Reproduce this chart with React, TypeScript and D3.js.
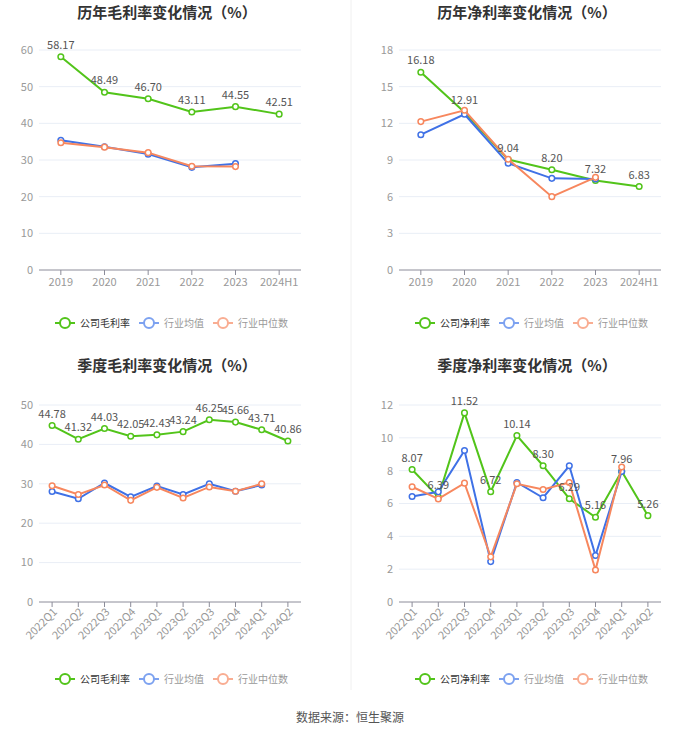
import * as d3 from "d3";
import { useEffect, useRef } from "react";

const years = ["2019", "2020", "2021", "2022", "2023", "2024H1"];
const quarters = ["2022Q1", "2022Q2", "2022Q3", "2022Q4", "2023Q1", "2023Q2", "2023Q3", "2023Q4", "2024Q1", "2024Q2"];

const yearGross = [58.17, 48.49, 46.7, 43.11, 44.55, 42.51];
const yearGrossMean = [35.4, 33.6, 31.6, 28.0, 29.0];
const yearGrossMedian = [34.7, 33.5, 32.0, 28.3, 28.2];

const yearNet = [16.18, 12.91, 9.04, 8.2, 7.32, 6.83];
const yearNetMean = [11.07, 12.74, 8.73, 7.5, 7.45];
const yearNetMedian = [12.14, 13.07, 9.06, 6.0, 7.58];

const qGross = [44.78, 41.32, 44.03, 42.05, 42.43, 43.24, 46.25, 45.66, 43.71, 40.86];
const qGrossMean = [28.05, 26.2, 30.2, 26.7, 29.4, 27.3, 30.0, 28.1, 29.7];
const qGrossMedian = [29.5, 27.3, 29.7, 25.8, 29.1, 26.4, 29.2, 28.1, 30.0];

const qNet = [8.07, 6.39, 11.52, 6.72, 10.14, 8.3, 6.29, 5.16, 7.96, 5.26];
const qNetMean = [6.43, 6.71, 9.23, 2.46, 7.28, 6.35, 8.3, 2.83, 7.95];
const qNetMedian = [7.02, 6.28, 7.24, 2.75, 7.2, 6.85, 7.28, 1.95, 8.22];

const GREEN = "#52c41a";
const BLUE = "#3f71e6";
const ORANGE = "#f7875e";
const FONT = "'Noto Sans CJK SC', 'Noto Sans', sans-serif";

type Panel = {
  title: string;
  companyName: string;
  cats: string[];
  company: number[];
  mean: number[];
  median: number[];
  yMax: number;
  yStep: number;
  left: number;
  top: number;
  bottom: number;
  titleY: number;
  legendY: number;
  rotate: boolean;
};

const panels: Panel[] = [
  { title: "历年毛利率变化情况（%）", companyName: "公司毛利率", cats: years, company: yearGross, mean: yearGrossMean, median: yearGrossMedian, yMax: 60, yStep: 10, left: 39, top: 50, bottom: 270, titleY: 13, legendY: 323, rotate: false },
  { title: "历年净利率变化情况（%）", companyName: "公司净利率", cats: years, company: yearNet, mean: yearNetMean, median: yearNetMedian, yMax: 18, yStep: 3, left: 399, top: 50, bottom: 270, titleY: 13, legendY: 323, rotate: false },
  { title: "季度毛利率变化情况（%）", companyName: "公司毛利率", cats: quarters, company: qGross, mean: qGrossMean, median: qGrossMedian, yMax: 50, yStep: 10, left: 39, top: 405, bottom: 602, titleY: 366, legendY: 679, rotate: true },
  { title: "季度净利率变化情况（%）", companyName: "公司净利率", cats: quarters, company: qNet, mean: qNetMean, median: qNetMedian, yMax: 12, yStep: 2, left: 399, top: 405, bottom: 602, titleY: 366, legendY: 679, rotate: true },
];

export default function App() {
  const ref = useRef<SVGSVGElement>(null);

  useEffect(() => {
    if (!ref.current) return;
    const svg = d3.select(ref.current);
    svg.selectAll("*").remove();
    svg.append("rect").attr("width", 700).attr("height", 734).attr("fill", "#fff");

    svg.append("line").attr("x1", 351).attr("x2", 351).attr("y1", 0).attr("y2", 690).attr("stroke", "#f0f0f0");

    panels.forEach(p => {
      const W = 262;
      const g = svg.append("g").attr("font-family", FONT);
      const x = d3.scaleBand().domain(p.cats).range([p.left, p.left + W]);
      const y = d3.scaleLinear().domain([0, p.yMax]).range([p.bottom, p.top]);
      const cx = (c: string) => (x(c) ?? 0) + x.bandwidth() / 2;
      const mid = p.left + W / 2;

      g.append("text")
        .attr("x", mid - 3)
        .attr("y", p.titleY)
        .attr("dy", "0.35em")
        .attr("text-anchor", "middle")
        .attr("font-size", 15)
        .attr("font-weight", 700)
        .attr("fill", "#333")
        .text(p.title);

      // grid + y labels
      d3.range(0, p.yMax + 0.001, p.yStep).forEach(v => {
        if (v > 0)
          g.append("line")
            .attr("x1", p.left).attr("x2", p.left + W)
            .attr("y1", y(v)).attr("y2", y(v))
            .attr("stroke", "#e9eef6");
        g.append("text")
          .attr("x", p.left - 6)
          .attr("y", y(v))
          .attr("dy", "0.35em")
          .attr("text-anchor", "end")
          .attr("font-size", 11)
          .attr("fill", "#999")
          .text(v);
      });

      // x axis
      g.append("line")
        .attr("x1", p.left).attr("x2", p.left + W)
        .attr("y1", p.bottom).attr("y2", p.bottom)
        .attr("stroke", "#8c8c99");
      p.cats.forEach(c => {
        g.append("line")
          .attr("x1", cx(c)).attr("x2", cx(c))
          .attr("y1", p.bottom).attr("y2", p.bottom + 5)
          .attr("stroke", "#8c8c99");
        if (p.rotate) {
          g.append("text")
            .attr("transform", `translate(${cx(c) + 3},${p.bottom + 8}) rotate(-45)`)
            .attr("text-anchor", "end")
            .attr("dy", "0.35em")
            .attr("font-size", 11)
            .attr("fill", "#999")
            .text(c);
        } else {
          g.append("text")
            .attr("x", cx(c))
            .attr("y", p.bottom + 16)
            .attr("text-anchor", "middle")
            .attr("font-size", 11)
            .attr("fill", "#999")
            .text(c);
        }
      });

      const series = [
        { vals: p.company, color: GREEN },
        { vals: p.mean, color: BLUE },
        { vals: p.median, color: ORANGE },
      ];
      const line = d3.line<number>().x((_, i) => cx(p.cats[i])).y(d => y(d));
      series.forEach(s => {
        g.append("path")
          .attr("d", line(s.vals))
          .attr("fill", "none")
          .attr("stroke", s.color)
          .attr("stroke-width", 2);
        s.vals.forEach((v, i) => {
          g.append("circle")
            .attr("cx", cx(p.cats[i]))
            .attr("cy", y(v))
            .attr("r", 2.8)
            .attr("fill", "#fff")
            .attr("stroke", s.color)
            .attr("stroke-width", 1.5);
        });
      });

      p.company.forEach((v, i) => {
        g.append("text")
          .attr("x", cx(p.cats[i]))
          .attr("y", y(v) - 8)
          .attr("text-anchor", "middle")
          .attr("font-size", 11)
          .attr("fill", "#555")
          .text(v.toFixed(2));
      });

      // legend
      const items = [
        { name: p.companyName, color: GREEN, text: "#333" },
        { name: "行业均值", color: "#7da2f0", text: "#999" },
        { name: "行业中位数", color: "#f9ad92", text: "#999" },
      ];
      let lx = p.left + 16;
      items.forEach(it => {
        const lg = g.append("g").attr("transform", `translate(${lx},${p.legendY})`);
        lg.append("line").attr("x1", 0).attr("x2", 20).attr("stroke", it.color).attr("stroke-width", 2);
        lg.append("circle").attr("cx", 10).attr("r", 5).attr("fill", "#fff").attr("stroke", it.color).attr("stroke-width", 2);
        const t = lg.append("text")
          .attr("x", 25)
          .attr("dy", "0.35em")
          .attr("font-size", 10)
          .attr("fill", it.text)
          .text(it.name);
        const w = (t.node() as SVGTextElement).getComputedTextLength();
        lx += 25 + w + 9;
      });
    });

    svg.append("text")
      .attr("x", 350)
      .attr("y", 718)
      .attr("dy", "0.35em")
      .attr("text-anchor", "middle")
      .attr("font-family", FONT)
      .attr("font-size", 12)
      .attr("fill", "#555")
      .text("数据来源：恒生聚源");
  }, []);

  return (
    <div style={{ position: "absolute", left: 0, top: 0 }}>
      <svg ref={ref} width={700} height={734} style={{ display: "block" }} />
    </div>
  );
}
